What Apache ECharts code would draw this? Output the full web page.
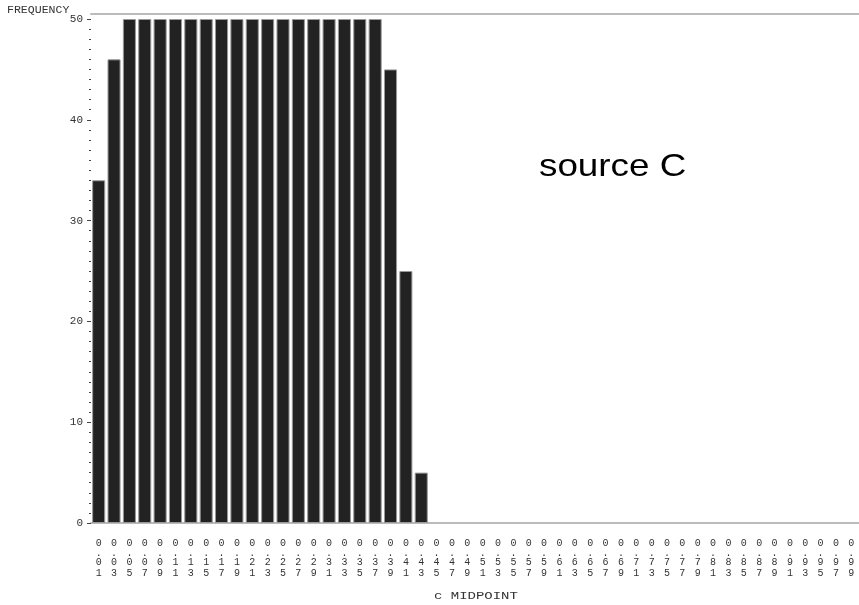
<!DOCTYPE html>
<html><head><meta charset="utf-8">
<script src="https://cdn.jsdelivr.net/npm/echarts@6/dist/echarts.min.js"></script>
<style>html,body{margin:0;padding:0;background:#fff}#c{width:859px;height:605px}</style>
</head><body><div id="c"></div>
<script>
const categories = ["0.01","0.03","0.05","0.07","0.09","0.11","0.13","0.15","0.17","0.19",
"0.21","0.23","0.25","0.27","0.29","0.31","0.33","0.35","0.37","0.39",
"0.41","0.43","0.45","0.47","0.49","0.51","0.53","0.55","0.57","0.59",
"0.61","0.63","0.65","0.67","0.69","0.71","0.73","0.75","0.77","0.79",
"0.81","0.83","0.85","0.87","0.89","0.91","0.93","0.95","0.97","0.99"];
const frequency = [34,46,50,50,50,50,50,50,50,50,50,50,50,50,50,50,50,50,50,45,25,5,
0,0,0,0,0,0,0,0,0,0,0,0,0,0,0,0,0,0,0,0,0,0,0,0,0,0,0,0];
const yTicks = [0,10,20,30,40,50];

const mono = '"Liberation Mono","DejaVu Sans Mono",monospace';
const chart = echarts.init(document.getElementById('c'));
chart.setOption({
  animation:false,
  backgroundColor:'#fff',
  grid:{left:91,right:0,top:19,bottom:82},
  graphic:[
    {type:'text',x:7,y:5,scaleX:1.05,style:{text:'FREQUENCY',font:'11px '+mono,fill:'#333'}},
    {type:'text',x:434,y:591,scaleX:1.27,style:{text:'c MIDPOINT',font:'11px '+mono,fill:'#333'}},
    {type:'text',x:539,y:151,scaleX:1.15,style:{text:'source C',font:'32px "Liberation Sans", Arial, sans-serif',fill:'#000'}}
  ],
  xAxis:[{
    type:'category',data:categories,position:'bottom',
    axisLine:{lineStyle:{color:'#bbb',width:2}},
    axisTick:{show:false},
    axisLabel:{interval:0,margin:14,fontFamily:mono,fontSize:10,color:'#333',
      rich:{f:{fontFamily:mono,fontSize:10,color:'#333',lineHeight:13},
            a:{fontFamily:mono,fontSize:10,color:'#333',lineHeight:11},
            d:{fontFamily:mono,fontSize:10,color:'#333',lineHeight:7}},
      formatter:v=>{const s=v.split('.');return '{f|'+s[0]+'}\n{d|.}\n{a|'+s[1][0]+'}\n{a|'+s[1][1]+'}';}}
  },{
    type:'category',data:categories,position:'top',offset:5,
    axisLine:{lineStyle:{color:'#bbb',width:2}},axisTick:{show:false},axisLabel:{show:false}
  }],
  yAxis:{
    type:'value',min:0,max:50,interval:10,
    axisLine:{show:false},
    axisTick:{show:true,length:4,lineStyle:{color:'#444'}},
    minorTick:{show:true,splitNumber:10,length:2,lineStyle:{color:'#444'}},
    splitLine:{show:false},
    axisLabel:{fontFamily:mono,fontSize:11,color:'#333',margin:8,
      formatter:v=>yTicks.includes(v)?String(v):''}
  },
  series:[{type:'bar',barCategoryGap:'15%',
    data:frequency.map(v=>({value:v,itemStyle:{borderWidth:v>0?1:0}})),
    itemStyle:{color:'#222',borderColor:'#999',borderWidth:1}}]
});
</script></body></html>
